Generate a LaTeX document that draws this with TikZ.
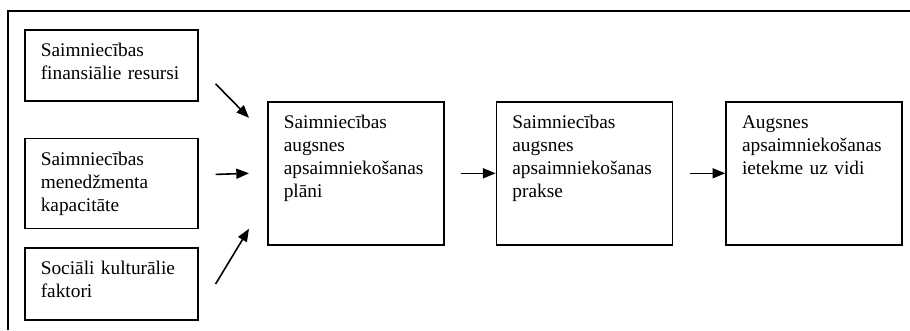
\documentclass[tikz,border=0pt]{standalone}
\usepackage{fontspec}
\setmainfont{Liberation Serif}
\usetikzlibrary{arrows.meta, positioning}

\begin{document}
\begin{tikzpicture}[x=0.75pt, y=-0.75pt, font=\fontsize{14.5}{17.25}\selectfont,
  blk/.style={draw, line width=1.2pt, anchor=north west, align=left, inner xsep=12pt, inner ysep=0pt, text height=20pt, text width=105.75pt},
  wide/.style={blk, text width=108pt, text depth=87.25pt},
  arr/.style={-{Triangle[length=9.5pt, width=7.5pt]}, line width=1.2pt}]
  \useasboundingbox (0,0) rectangle (910,330);
  \draw[line width=1.2pt] (8,330) -- (8,11) -- (910,11);
  \node[blk, text depth=33.25pt] (fin) at (24,29) {Saimniecības\\finansiālie resursi};
  \node[blk, text depth=47.5pt, below=27pt of fin] (men) {Saimniecības\\menedžmenta\\kapacitāte};
  \node[blk, text depth=34pt, below=13.5pt of men] (soc) {Sociāli kulturālie\\faktori};
  \node[wide] (plan) at (267,101) {Saimniecības\\augsnes\\apsaimniekošanas\\plāni};
  \node[wide, right=38.25pt of plan] (prak) {Saimniecības\\augsnes\\apsaimniekošanas\\prakse};
  \node[wide, right=39pt of prak] (vide) {Augsnes\\apsaimniekošanas\\ietekme uz vidi};
  \draw[arr] ([shift={(12.75pt,-13.9pt)}]fin.east) -- ([shift={(-13.5pt,41.6pt)}]plan.west);
  \draw[arr] ([shift={(12.75pt,6.75pt)}]men.east) -- ([xshift=-13.5pt]plan.west);
  \draw[arr] ([xshift=12.75pt]soc.east) -- ([shift={(-13.5pt,-41.6pt)}]plan.west);
  \draw[arr, shorten <=12pt] (plan) -- (prak);
  \draw[arr, shorten <=12.75pt] (prak) -- (vide);
\end{tikzpicture}
\end{document}
